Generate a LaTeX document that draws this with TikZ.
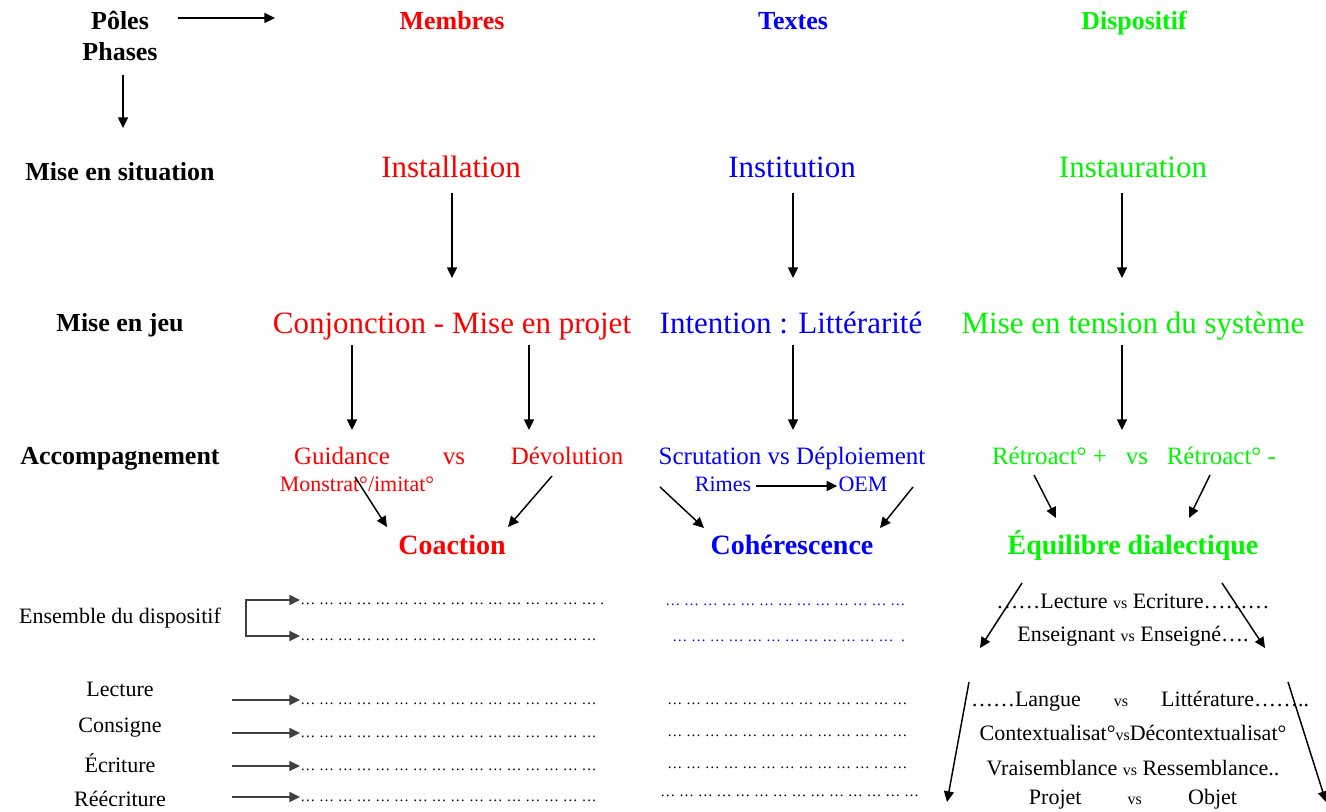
\documentclass[tikz,border=0pt]{standalone}
\usepackage{fontspec}
\setmainfont{Liberation Serif}
\usetikzlibrary{arrows.meta,calc}
\definecolor{cred}{RGB}{255,0,0}
\definecolor{cblue}{RGB}{0,0,255}
\definecolor{cgreen}{RGB}{0,245,0}
\newcommand{\fpx}[1]{\fontsize{\fpeval{0.75*#1}pt}{\fpeval{0.9*#1}pt}\selectfont}
\newcommand{\dotrow}[1]{\foreach \i in {1,...,#1}{…\ }}
\tikzset{
  tx/.style={inner sep=0pt, text height=1.22em, text depth=0pt},
  hd/.style={tx, font=\fpx{26}\bfseries},
  bg/.style={tx, font=\fpx{31}},
  rs/.style={tx, font=\fpx{28}\bfseries},
  md/.style={tx, font=\fpx{25}},
  sm/.style={tx, font=\fpx{22}},
  lb/.style={inner sep=0pt, text height=1.04em, text depth=0pt, font=\fpx{22}},
  dt/.style={inner sep=0pt, text height=.68em, text depth=0pt, font=\fpx{15}, anchor=west},
  arr/.style={line width=1.1pt, -{Triangle[length=8pt,width=7.5pt]}},
  arrb/.style={line width=1.4pt, draw=black!75, {Triangle[length=8pt,width=7.5pt]}-{Triangle[length=8pt,width=7.5pt]}},
  arrs/.style={line width=1.4pt, draw=black!75, -{Triangle[length=8pt,width=7.5pt]}},
}
\begin{document}
\begin{tikzpicture}[x=0.75pt,y=-0.75pt]
\useasboundingbox (0,0) rectangle (1326,812);
% headers
\node[hd] (poles) at (120,21) {Pôles};
\node[hd] (phases) at (120,52) {Phases};
\node[hd,text=cred] (membres) at (452,21) {Membres};
\node[hd,text=cblue] (textes) at (793,21) {Textes};
\node[hd,text=cgreen] (dispo) at (1134,21) {Dispositif};
\draw[arr] ($(poles)+(58,-3)$) -- ($(poles)+(155,-3)$);
\draw[arr] ($(phases)+(3,23)$) -- ($(phases)+(3,76)$);
% row 1
\node[hd] (mes) at (120,172) {Mise en situation};
\node[bg,text=cred] (inst) at (451,169) {Installation};
\node[bg,text=cblue] (instit) at (792,169) {Institution};
\node[bg,text=cgreen] (instaur) at (1133,169) {Instauration};
% row 2
\node[hd] (mej) at (120,323) {Mise en jeu};
\node[bg,text=cred] (conj) at (452,325) {Conjonction - Mise en projet};
\node[bg,text=cblue] (intent) at (791,325) {Intention : Littérarité};
\node[bg,text=cgreen] (tension) at (1133,325) {Mise en tension du système};
\draw[arr] ($(inst)+(1,24)$) -- ($(inst)+(1,109)$);
\draw[arr] ($(instit)+(1,24)$) -- ($(instit)+(1,109)$);
\draw[arr] ($(instaur)+(-11,24)$) -- ($(instaur)+(-11,109)$);
% row 3
\node[hd] (acc) at (120,456) {Accompagnement};
\node[md,text=cred] (guid) at (342,456) {Guidance};
\node[md,text=cred] (vsm) at (454,456) {vs};
\node[md,text=cred] (devol) at (567,456) {Dévolution};
\node[sm,text=cred] (monst) at (357,483) {Monstrat°/imitat°};
\node[md,text=cblue] (scrut) at (792,456) {Scrutation vs Déploiement};
\node[sm,text=cblue] (rimes) at (723,483) {Rimes};
\node[sm,text=cblue] (oem) at (863,483) {OEM};
\node[md,text=cgreen] (retro) at (1134,456) {Rétroact° +\hspace{0.75em}vs\hspace{0.75em}Rétroact° -};
\draw[arr] ($(conj)+(-100,20)$) -- ($(conj)+(-100,105)$);
\draw[arr] ($(conj)+(77,20)$) -- ($(conj)+(77,105)$);
\draw[arr] ($(intent)+(2,20)$) -- ($(intent)+(2,105)$);
\draw[arr] ($(tension)+(-11,20)$) -- ($(tension)+(-11,105)$);
\draw[arr] ($(rimes.east)+(5,3)$) -- ($(oem.west)+(-1,3)$);
% row 4
\node[rs,text=cred] (coact) at (452,546) {Coaction};
\node[rs,text=cblue] (coher) at (792,546) {Cohérescence};
\node[rs,text=cgreen] (equil) at (1133,546) {Équilibre dialectique};
\draw[arr] ($(coact)+(-97,-69)$) -- ($(coact)+(-65,-19)$);
\draw[arr] ($(coact)+(100,-70)$) -- ($(coact)+(56,-19)$);
\draw[arr] ($(coher)+(-132,-59)$) -- ($(coher)+(-88,-18)$);
\draw[arr] ($(coher)+(121,-59)$) -- ($(coher)+(88,-18)$);
\draw[arr] ($(equil)+(-99,-71)$) -- ($(equil)+(-77,-28)$);
\draw[arr] ($(equil)+(77,-71)$) -- ($(equil)+(56,-28)$);
% lower left
\node[lb] (ens) at (120,617) {Ensemble du dispositif};
\node[dt] (m1) at (300,600) {\dotrow{16}.};
\node[dt] (m2) at (300,636) {\dotrow{16}};
\node[dt,text=cblue] (b1) at (665,601) {\dotrow{13}};
\node[dt,text=cblue] (b2) at (672,637) {\dotrow{12}\ .};
\draw[arrb] (m1.west) -- ++(-54,0) |- (m2.west);
\node[lb] (lect) at (120,690) {Lecture};
\node[lb] (cons) at (120,726) {Consigne};
\node[lb] (ecr) at (120,766) {Écriture};
\node[lb] (reecr) at (120,800) {Réécriture};
\node[dt] (l1) at (300,700) {\dotrow{16}};
\node[dt] (l2) at (300,733) {\dotrow{16}};
\node[dt] (l3) at (300,766) {\dotrow{16}};
\node[dt] (l4) at (300,797) {\dotrow{16}};
\draw[arrs] ($(l1.west)+(-68,0)$) -- (l1.west);
\draw[arrs] ($(l2.west)+(-68,0)$) -- (l2.west);
\draw[arrs] ($(l3.west)+(-68,0)$) -- (l3.west);
\draw[arrs] ($(l4.west)+(-68,0)$) -- (l4.west);
\node[dt] (t1) at (667,700) {\dotrow{13}};
\node[dt] (t2) at (667,732) {\dotrow{13}};
\node[dt] (t3) at (667,764) {\dotrow{13}};
\node[dt] (t4) at (660,792) {\dotrow{14}};
% lower right
\node[lb] (lecw) at (1133,602) {……Lecture {\fpx{16}vs} Ecriture………};
\node[lb] (ensg) at (1133,635) {Enseignant {\fpx{16}vs} Enseigné….};
\draw[arr] ($(equil)+(-111,37)$) -- ($(equil)+(-153,102)$);
\draw[arr] ($(equil)+(89,37)$) -- ($(equil)+(132,102)$);
\node[lb] (lang) at (1140,700) {……Langue\hspace{1.5em}{\fpx{16}vs}\hspace{1.5em}Littérature……..};
\node[lb] (ctx) at (1133,734) {Contextualisat°{\fpx{16}vs}Décontextualisat°};
\node[lb] (vrai) at (1133,769) {Vraisemblance {\fpx{16}vs} Ressemblance..};
\node[lb] (proj) at (1133,798) {Projet\hspace{2.1em}{\fpx{16}vs}\hspace{2.1em}Objet};
\draw[arr] ($(lang)+(-171,-18)$) -- ($(lang)+(-193,102)$);
\draw[arr] ($(lang)+(148,-18)$) -- ($(lang)+(186,102)$);
\end{tikzpicture}
\end{document}
